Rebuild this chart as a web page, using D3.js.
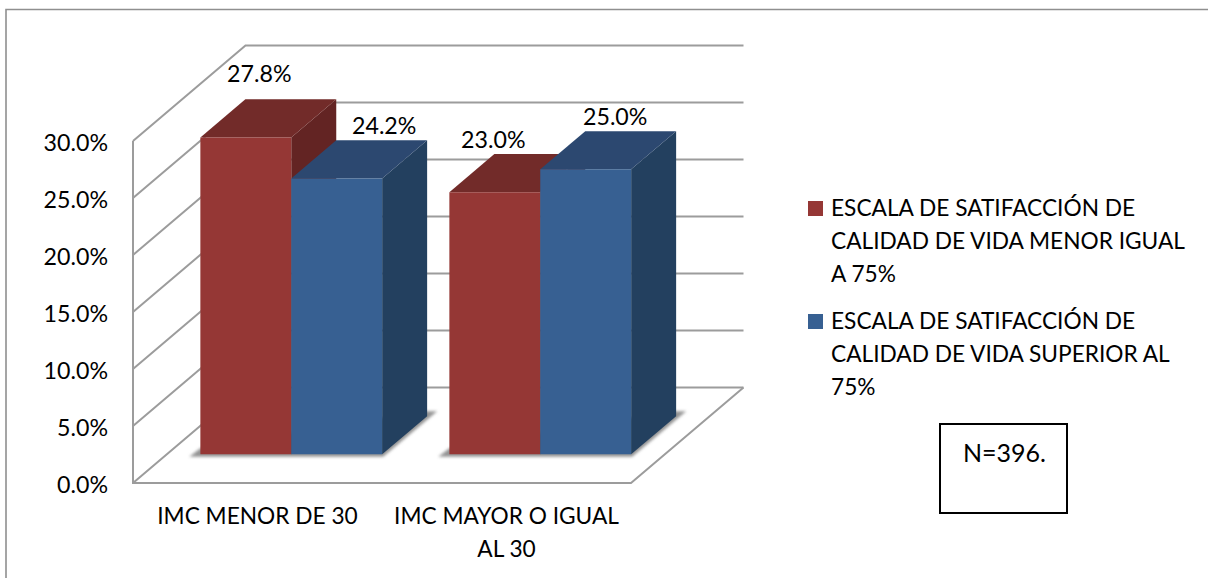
<!DOCTYPE html>
<html><head><meta charset="utf-8">
<script src="https://cdn.jsdelivr.net/npm/d3@7"></script>
<style>html,body{margin:0;padding:0;background:#fff}svg{display:block}text{font-family:Lato,sans-serif;fill:#000}</style>
</head><body><svg id="c" width="1208" height="578"></svg>
<script>
const categories=[["IMC MENOR DE 30"],["IMC MAYOR O IGUAL","AL 30"]];
const seriesA=[27.8,23.0];
const seriesB=[24.2,25.0];
const yTicks=[0,5,10,15,20,25,30];
const legendA=["ESCALA DE SATIFACCIÓN DE","CALIDAD DE VIDA MENOR IGUAL","A 75%"];
const legendB=["ESCALA DE SATIFACCIÓN DE","CALIDAD DE VIDA SUPERIOR AL","75%"];
const noteText="N=396.";
const colorsA={front:"#953735",top:"#722b29",side:"#632423"};
const colorsB={front:"#376092",top:"#2c4870",side:"#23405f"};

const svg=d3.select("#c");
const fs=22.7;
const fsNum=23.2;
const defs=svg.append("defs");
defs.append("filter").attr("id","sh").attr("x","-20%").attr("y","-20%").attr("width","140%").attr("height","140%")
  .append("feGaussianBlur").attr("stdDeviation",1.5);

const y=d3.scaleLinear().domain([0,30]).range([483,141]);
const depthX=d3.scaleLinear().domain([0,1]).range([0,112.5]);
const depthY=d3.scaleLinear().domain([0,1]).range([0,-95.5]);
const wallX=133,floorRight=631;
const barDepth0=0.3,barDepth1=0.7;
const x0=d3.scaleBand().domain(d3.range(2)).range([wallX+depthX(barDepth0),floorRight+depthX(barDepth0)]).paddingInner(0.27).paddingOuter(0.135);
const x1=d3.scaleBand().domain([0,1]).range([0,x0.bandwidth()]);
const P=(px,py,d)=>[px+depthX(d),py+depthY(d)];
const poly=(g,pts,fill)=>g.append("polygon").attr("points",pts.map(p=>p.join(",")).join(" ")).attr("fill",fill);

svg.append("polyline").attr("points","6,578 6,9.5 1208,9.5").attr("fill","none").attr("stroke","#8f8f8f").attr("stroke-width",1.6);

const grid=svg.append("g").attr("fill","none").attr("stroke","#9c9c9c").attr("stroke-width",2);
yTicks.forEach(t=>{
  const a=[wallX,y(t)],b=P(wallX,y(t),1),c=[floorRight+depthX(1),b[1]];
  grid.append("polyline").attr("points",[a,b,c].map(p=>p.join(",")).join(" "));
});
grid.append("polyline").attr("points",[[wallX,y(30)],[wallX,y(0)],[floorRight,y(0)],P(floorRight,y(0),1)].map(p=>p.join(",")).join(" "));

const bars=svg.append("g");
function bar(cat,ser,val,col){
  const l=x0(cat)+x1(ser),r=l+x1.bandwidth();
  const base=y(0)+depthY(barDepth0),top=y(val)+depthY(barDepth0);
  return {l,r,base,top,dd:barDepth1-barDepth0,col};
}
function shadow(a,b){
  const g=bars.append("g").attr("filter","url(#sh)");
  const dx=depthX(a.dd),dy=depthY(a.dd);
  poly(g,[[a.l,b.base-6],[a.l-11,b.base+2.5],[b.r+1,b.base+2.5],[b.r+dx+10,b.base+dy-5],[b.r+dx-4,b.base+dy-5]],"#939393");
}
function drawBar(b){
  poly(bars,[[b.r,b.top],[b.r+depthX(b.dd),b.top+depthY(b.dd)],[b.r+depthX(b.dd),b.base+depthY(b.dd)],[b.r,b.base]],b.col.side);
  poly(bars,[[b.l,b.top],[b.r,b.top],[b.r+depthX(b.dd),b.top+depthY(b.dd)],[b.l+depthX(b.dd),b.top+depthY(b.dd)]],b.col.top);
  poly(bars,[[b.l,b.top],[b.r,b.top],[b.r,b.base],[b.l,b.base]],b.col.front);
}
const labelNudge=[[[-9,-17],[25,-6]],[[-24,-6],[7,-6]]];
const labels=svg.append("g");
categories.forEach((c,i)=>{
  const a=bar(i,0,seriesA[i],colorsA),b=bar(i,1,seriesB[i],colorsB);
  shadow(a,b);drawBar(a);drawBar(b);
  [[a,seriesA[i]],[b,seriesB[i]]].forEach(([m,v],s)=>{
    labels.append("text").attr("x",(m.l+m.r)/2+depthX(m.dd)/2+labelNudge[i][s][0]).attr("y",m.top+depthY(m.dd)+labelNudge[i][s][1])
      .attr("text-anchor","middle").attr("font-size",fsNum).text(v.toFixed(1)+"%");
  });
  c.forEach((line,k)=>labels.append("text").attr("x",(a.l+b.r)/2-depthX(barDepth0)).attr("y",524+k*33).attr("text-anchor","middle")
    .attr("font-size",fs).text(line));
});

const yAxis=d3.axisLeft(y).tickValues(yTicks).tickSize(0).tickPadding(0).tickFormat(d=>d.toFixed(1)+"%");
const ax=svg.append("g").attr("transform","translate(108,2)").call(yAxis);
ax.select(".domain").remove();
ax.selectAll("text").attr("font-size",fsNum).attr("fill","#000");

const lg=svg.append("g");
[[legendA,colorsA.front,216],[legendB,colorsB.front,329]].forEach(([lines,col,yy])=>{
  lg.append("rect").attr("x",808).attr("y",yy-15).attr("width",15).attr("height",15).attr("fill",col);
  lines.forEach((t,i)=>lg.append("text").attr("x",831).attr("y",yy+i*33).attr("font-size",fs).text(t));
});

svg.append("rect").attr("x",940).attr("y",424).attr("width",127).attr("height",89).attr("fill","#fff").attr("stroke","#000").attr("stroke-width",2);
svg.append("text").attr("x",963).attr("y",462).attr("font-size",25).text(noteText);
</script></body></html>
